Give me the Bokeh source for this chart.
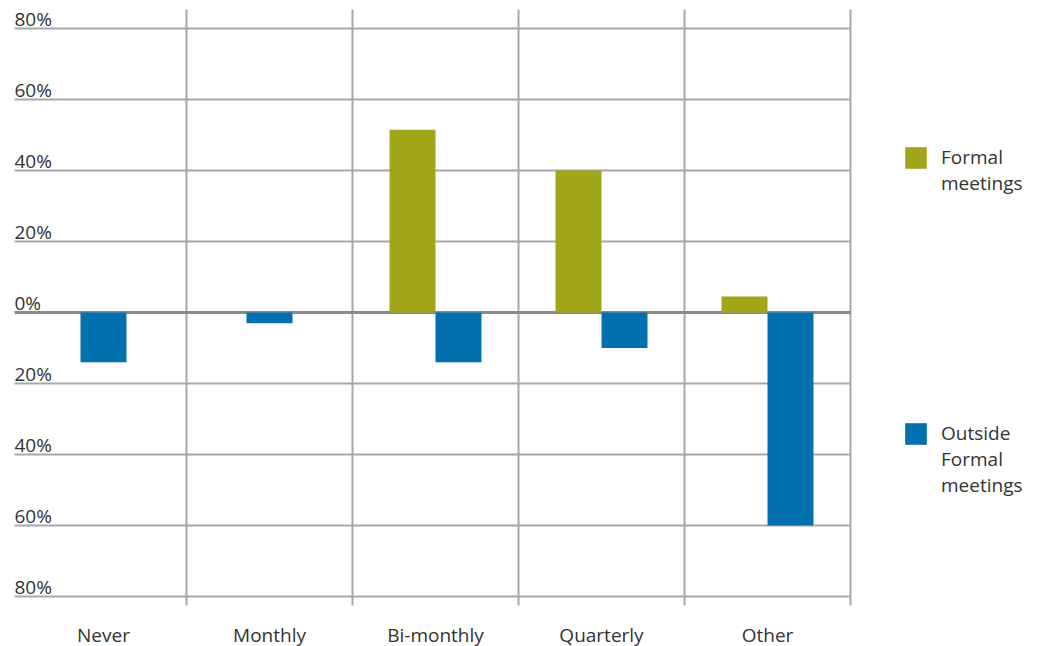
from bokeh.plotting import figure
from bokeh.models import Legend, LegendItem, ColumnDataSource, Range1d
from bokeh.core.properties import value
from bokeh.embed import file_html
from bokeh.resources import INLINE

categories = ["Never", "Monthly", "Bi-monthly", "Quarterly", "Other"]
formal = [None, None, 51.5, 40, 4.5]
outside = [-14, -3, -14, -10, -60]
y_ticks = [80, 60, 40, 20, 0, -20, -40, -60, -80]
y_tick_labels = ["80%", "60%", "40%", "20%", "0%", "20%", "40%", "60%", "80%"]
series_names = ["Formal\nmeetings", "Outside\nFormal\nmeetings"]

GREEN = "#A0A617"
BLUE = "#0070AE"
TEXT = "#333333"
GRID = "#a8a8a8"
ZERO = "#8a8a8a"
FONT = "Open Sans"
FS = "19px"
BAR_W = 0.277

W, H = 1040, 646
PX_X = 166.0        # pixels per category
PX_Y = 3.55         # pixels per percent
ZERO_PX = 312       # screen row of the 0% line
LEFT_PX = 14        # left end of the horizontal gridlines

n = len(categories)
grid_x0 = -0.5 - 6 / PX_X
grid_x1 = n - 0.5
x_lo = grid_x0 - LEFT_PX / PX_X
x_hi = grid_x1 + (W - LEFT_PX - (grid_x1 - grid_x0) * PX_X) / PX_X
y_hi = ZERO_PX / PX_Y
y_lo = -(H - ZERO_PX) / PX_Y
sep_top = max(y_ticks) + 19 / PX_Y
sep_bot = min(y_ticks) - 9 / PX_Y
label_y = -(634 - ZERO_PX) / PX_Y

p = figure(width=W, height=H, output_backend="svg", toolbar_location=None,
           x_range=Range1d(x_lo, x_hi), y_range=Range1d(y_lo, y_hi),
           min_border=0)
p.outline_line_color = None
p.axis.visible = False
p.grid.grid_line_color = None

# vertical separators
seps = [i + 0.5 for i in range(n)]
p.segment(x0=seps, x1=seps, y0=[sep_bot] * n, y1=[sep_top] * n,
          line_color=GRID, line_width=2)

# horizontal gridlines
gsrc = ColumnDataSource(dict(x0=[grid_x0] * len(y_ticks), x1=[grid_x1] * len(y_ticks),
                             y=y_ticks,
                             c=[ZERO if t == 0 else GRID for t in y_ticks],
                             w=[3 if t == 0 else 2 for t in y_ticks]))
p.segment(x0="x0", x1="x1", y0="y", y1="y", source=gsrc, line_color="c", line_width="w")

# bars
fx, fy, ox, oy = [], [], [], []
for i, (f, o) in enumerate(zip(formal, outside)):
    if f is not None:
        fx.append(i - BAR_W / 2)
        fy.append(f)
        ox.append(i + BAR_W / 2)
    else:
        ox.append(i)
    oy.append(o)

r1 = p.vbar(x=fx, top=fy, bottom=0, width=BAR_W, fill_color=GREEN, line_color=None)
r2 = p.vbar(x=ox, top=oy, bottom=0, width=BAR_W, fill_color=BLUE, line_color=None)

# y labels sitting on gridlines
ysrc = ColumnDataSource(dict(x=[grid_x0] * len(y_ticks), y=y_ticks, t=y_tick_labels))
p.text(x="x", y="y", text="t", source=ysrc, text_font=value(FONT),
       text_font_size=FS, text_color=TEXT, text_align="left",
       text_baseline="bottom", y_offset=3)

# category labels
xsrc = ColumnDataSource(dict(x=list(range(n)), y=[label_y] * n, t=categories))
p.text(x="x", y="y", text="t", source=xsrc, text_font=value(FONT),
       text_font_size=FS, text_color=TEXT, text_align="center",
       text_baseline="middle")


def top_aligned(label):
    # pad with leading blank lines so the first line sits level with the swatch
    k = label.count("\n")
    return "\n" * k + label


def make_legend(label, renderer, loc):
    lg = Legend(items=[LegendItem(label=top_aligned(label), renderers=[renderer])],
                location=loc)
    lg.label_text_font = FONT
    lg.label_text_font_size = FS
    lg.label_text_color = TEXT
    lg.label_text_line_height = 1.25
    lg.glyph_width = 27
    lg.glyph_height = 27
    lg.label_standoff = 12
    lg.padding = 0
    lg.margin = 0
    lg.border_line_color = None
    lg.background_fill_alpha = 0
    return lg


p.add_layout(make_legend(series_names[0], r1, (902, 450)), "center")
p.add_layout(make_legend(series_names[1], r2, (902, 148)), "center")

open("out.html", "w").write(file_html(p, INLINE))
